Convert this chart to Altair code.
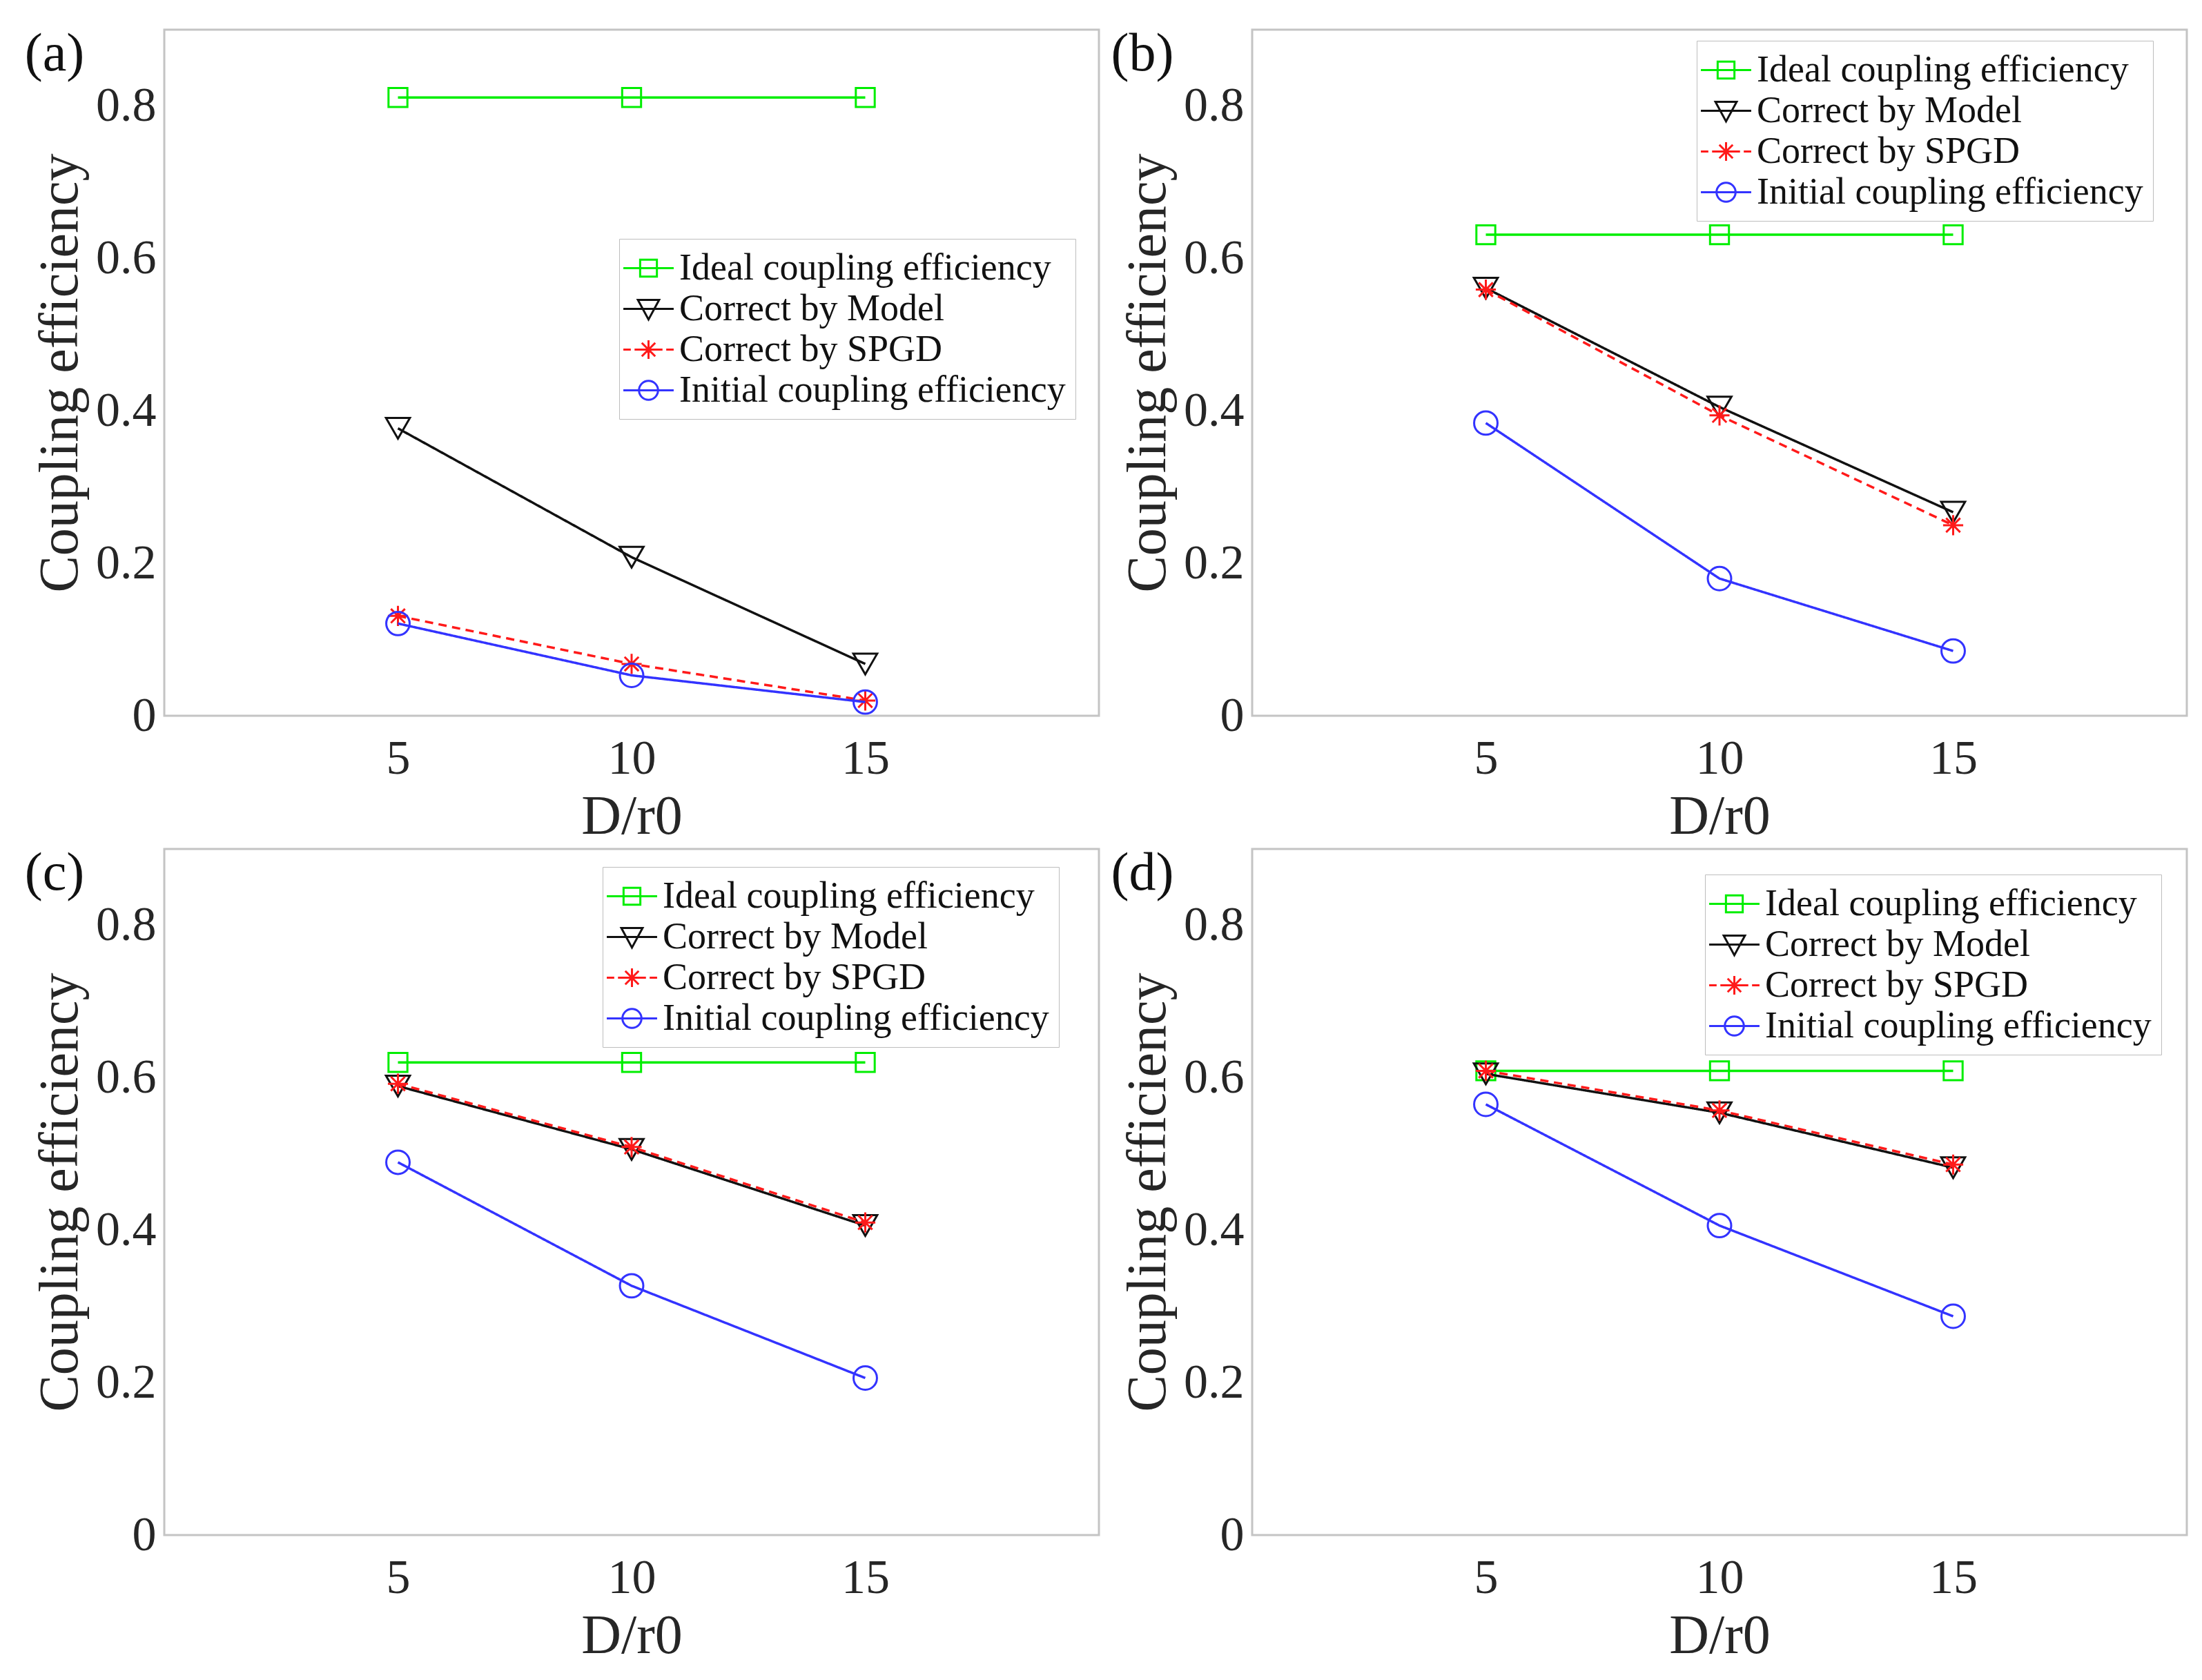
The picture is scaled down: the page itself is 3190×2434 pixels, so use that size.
import altair as alt
import pandas as pd

# x positions (D/r0)
d_r0 = [5, 10, 15]
series_names = ["Ideal coupling efficiency", "Correct by Model",
                "Correct by SPGD", "Initial coupling efficiency"]
panel_labels = ["(a)", "(b)", "(c)", "(d)"]

# panel (a)
a_ideal = [0.811, 0.811, 0.811]
a_model = [0.377, 0.208, 0.068]
a_spgd = [0.131, 0.068, 0.020]
a_init = [0.121, 0.053, 0.018]
# panel (b)
b_ideal = [0.631, 0.631, 0.631]
b_model = [0.561, 0.405, 0.267]
b_spgd = [0.559, 0.394, 0.250]
b_init = [0.384, 0.180, 0.085]
# panel (c)
c_ideal = [0.620, 0.620, 0.620]
c_model = [0.589, 0.506, 0.406]
c_spgd = [0.592, 0.509, 0.410]
c_init = [0.489, 0.327, 0.206]
# panel (d)
d_ideal = [0.609, 0.609, 0.609]
d_model = [0.605, 0.554, 0.482]
d_spgd = [0.609, 0.557, 0.486]
d_init = [0.565, 0.406, 0.287]

# legend box position inside each plot (px from plot top-left)
legend_pos = [(659, 303), (644, 16), (635, 26), (656, 37)]

colors = ["#00ee00", "#111111", "#ff1a1a", "#3333ff"]
dashes = [[1, 0], [1, 0], [12, 8], [1, 0]]
asterisk = "M0,-1V1M-1,0H1M-0.7,-0.7L0.7,0.7M-0.7,0.7L0.7,-0.7"
shapes = ["square", "triangle-down", asterisk, "circle"]
sizes = [750, 1200, 850, 1150]
# legend glyphs: short line stub with the marker on it (wider than the unit box)
legend_shapes = [
    "M-1.35,0H1.35M-0.45,-0.45H0.45V0.45H-0.45Z",
    "M-1.35,0H1.35M-0.57,-0.48L0.57,-0.48L0,0.57Z",
    "M-1.35,0H-0.95M-0.75,0H-0.5M0.5,0H0.75M0.95,0H1.35"
    "M0,-0.5V0.5M-0.5,0H0.5M-0.36,-0.36L0.36,0.36M-0.36,0.36L0.36,-0.36",
    "M-1.35,0H1.35M0.51,0A0.51,0.51,0,1,1,-0.51,0A0.51,0.51,0,1,1,0.51,0",
]

FONT = "Liberation Serif"
x_scale = alt.Scale(domain=[0, 20], nice=False)
y_scale = alt.Scale(domain=[0, 0.9], nice=False)


def panel(label, values, lpos):
    df = pd.DataFrame({
        "D/r0": d_r0 * 4,
        "eff": [v for s in values for v in s],
        "series": [n for n in series_names for _ in d_r0],
    })
    base = alt.Chart(df)
    x = alt.X("D/r0:Q", scale=x_scale, title="D/r0",
              axis=alt.Axis(values=d_r0, format="d", labelPadding=28, titlePadding=10))
    y = alt.Y("eff:Q", scale=y_scale, title="Coupling efficiency",
              axis=alt.Axis(values=[0, 0.2, 0.4, 0.6, 0.8], format="~g",
                            labelPadding=12, titlePadding=10))
    layers = []
    for name, col, dash, shp, sz in zip(series_names, colors, dashes, shapes, sizes):
        layers.append(
            base.transform_filter(alt.datum.series == name)
            .mark_line(color=col, strokeWidth=3.5, strokeDash=dash,
                       point=alt.OverlayMarkDef(shape=shp, filled=False, size=sz,
                                                color=col, strokeWidth=3))
            .encode(x=x, y=y)
        )
    leg = alt.Legend(orient="none", legendX=lpos[0], legendY=lpos[1], title=None,
                     labelFont=FONT, labelFontSize=54, labelColor="#111111",
                     labelLimit=2000, labelOffset=16, symbolSize=2916,
                     symbolStrokeWidth=3, strokeColor="#bdbdbd", fillColor="white",
                     padding=14, rowPadding=3)
    legend_layer = base.mark_point(opacity=0, filled=False).encode(
        x=x, y=y,
        shape=alt.Shape("series:N", sort=series_names, legend=leg,
                        scale=alt.Scale(domain=series_names, range=legend_shapes)),
        color=alt.Color("series:N", sort=series_names, legend=leg,
                        scale=alt.Scale(domain=series_names, range=colors)),
    )
    tag = alt.Chart(pd.DataFrame({"label": [label]})).mark_text(
        font=FONT, fontSize=78, color="#111111", align="center",
        baseline="middle", dx=-159, dy=36
    ).encode(x=alt.datum(0), y=alt.datum(0.9), text="label:N")
    return alt.layer(*layers, legend_layer, tag).properties(width=1354, height=994)


charts = []
for lab, vals, lpos in zip(
        panel_labels,
        [[a_ideal, a_model, a_spgd, a_init], [b_ideal, b_model, b_spgd, b_init],
         [c_ideal, c_model, c_spgd, c_init], [d_ideal, d_model, d_spgd, d_init]],
        legend_pos):
    charts.append(panel(lab, vals, lpos))


def row(left, right):
    return alt.hconcat(left, right, spacing=14).resolve_scale(
        color="independent", shape="independent"
    ).resolve_legend(color="independent", shape="independent")


chart = alt.vconcat(row(charts[0], charts[1]), row(charts[2], charts[3]),
                    spacing=0).resolve_scale(
    color="independent", shape="independent"
).resolve_legend(color="independent", shape="independent").properties(
    padding={"left": 26, "top": 30, "right": 5, "bottom": 5},
    background="white"
).configure_view(
    stroke="#c4c4c4", strokeWidth=3
).configure_axis(
    labelFont=FONT, titleFont=FONT, labelFontSize=70, titleFontSize=80,
    titleFontWeight="normal", labelColor="#262626", titleColor="#262626",
    domain=False, ticks=False, grid=False, labelFlush=False
)

chart.save("out.html", embed_options={"renderer": "svg", "actions": False})
